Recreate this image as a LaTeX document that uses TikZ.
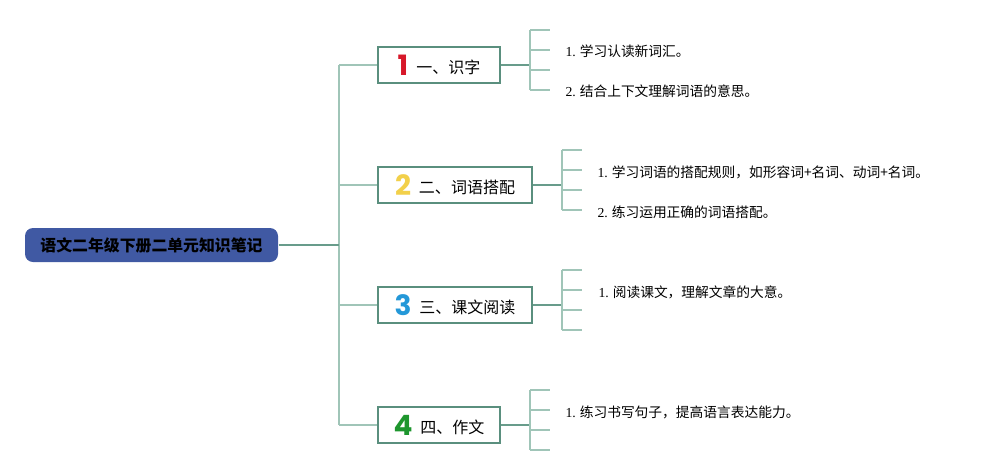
\documentclass[tikz,border=0pt]{standalone}
\usepackage{fontspec}
\setmainfont{Liberation Serif}
\newfontfamily\cjkfont{Noto Sans CJK SC}
\newfontfamily\digitfont{Poppins}
\usetikzlibrary{positioning}

\definecolor{rootblue}{RGB}{64,89,163}
\definecolor{boxgreen}{RGB}{90,143,126}
\definecolor{trunkgreen}{RGB}{160,197,184}
\definecolor{linkgreen}{RGB}{104,156,139}
\definecolor{numred}{RGB}{215,24,42}
\definecolor{numyellow}{RGB}{242,208,74}
\definecolor{numblue}{RGB}{36,152,216}
\definecolor{numgreen}{RGB}{30,150,46}

\newcommand\topicnum[2]{{\digitfont\bfseries\fontsize{21}{21}\selectfont\color{#1}#2}\hspace{6pt}}
\newcommand\leafitem[2]{#1.\hspace{3pt}{\cjkfont #2}}

\tikzset{every picture/.style={line width=0.75pt}}

\begin{document}
\begin{tikzpicture}[x=0.75pt,y=0.75pt,yscale=-1,
  rootbox/.style={fill=rootblue, rounded corners=6pt, minimum width=189.75pt, minimum height=25.5pt,
    inner sep=0pt, font=\cjkfont\bfseries\fontsize{11.9}{12}\selectfont},
  topicbox/.style={draw=boxgreen, line width=1.5pt, fill=white, minimum height=27pt, inner sep=2pt,
    font=\cjkfont\fontsize{12}{13}\selectfont},
  leaftext/.style={anchor=west, inner sep=0pt, font=\fontsize{10.3}{11}\selectfont},
  trunkline/.style={draw=trunkgreen, line width=1.5pt},
  linkline/.style={draw=linkgreen, line width=2pt},
  bracketline/.style={draw=trunkgreen, line width=1.5pt}]
\useasboundingbox (0,0) rectangle (995,475);

%Root
\node[rootbox] (root) at (151.5,245) {语文二年级下册二单元知识笔记};

%Topics
\node[topicbox, minimum width=91.5pt] (t1) at (439,65) {\topicnum{numred}{1}\raisebox{1.5pt}{一、识字}};
\node[topicbox, minimum width=115.5pt] (t2) at (455,185) {\topicnum{numyellow}{2}\raisebox{1.5pt}{二、词语搭配}};
\node[topicbox, minimum width=115.5pt] (t3) at (455,305) {\topicnum{numblue}{3}\raisebox{1.5pt}{三、课文阅读}};
\node[topicbox, minimum width=91.5pt] (t4) at (439,425) {\topicnum{numgreen}{4}\raisebox{1.5pt}{四、作文}};

%Trunk
\coordinate (tj) at (339,245);
\draw[trunkline] (t1.west -| tj) -- (t4.west -| tj);
\foreach \t in {t1,t2,t3,t4}
  \draw[trunkline] (\t.west -| tj) -- (\t.west);
\draw[linkline] (root.east) -- (tj);

%Brackets
\coordinate (k1) at (530,65);
\coordinate (k2) at (562,185);
\coordinate (k3) at (562,305);
\coordinate (k4) at (530,425);
\foreach \t/\k/\x/\y in {t1/k1/530/30,t2/k2/562/150,t3/k3/562/270,t4/k4/530/390}{
  \draw[linkline] (\t.east) -- (\k);
  \draw[bracketline] (\x,\y) -- (\x,\y+60);
  \foreach \d in {0,20,40,60}
    \draw[bracketline] (\x,\y+\d) -- ++(20,0);
}

%Leaves
\node[leaftext] (l11) at (565,51) {\leafitem{1}{学习认读新词汇。}};
\node[leaftext] (l12) at (565,91) {\leafitem{2}{结合上下文理解词语的意思。}};
\node[leaftext] (l21) at (597,172) {\leafitem{1}{学习词语的搭配规则，如形容词+名词、动词+名词。}};
\node[leaftext] (l22) at (597,212) {\leafitem{2}{练习运用正确的词语搭配。}};
\node[leaftext] (l31) at (598,292) {\leafitem{1}{阅读课文，理解文章的大意。}};
\node[leaftext] (l41) at (565,412) {\leafitem{1}{练习书写句子，提高语言表达能力。}};

\end{tikzpicture}
\end{document}
